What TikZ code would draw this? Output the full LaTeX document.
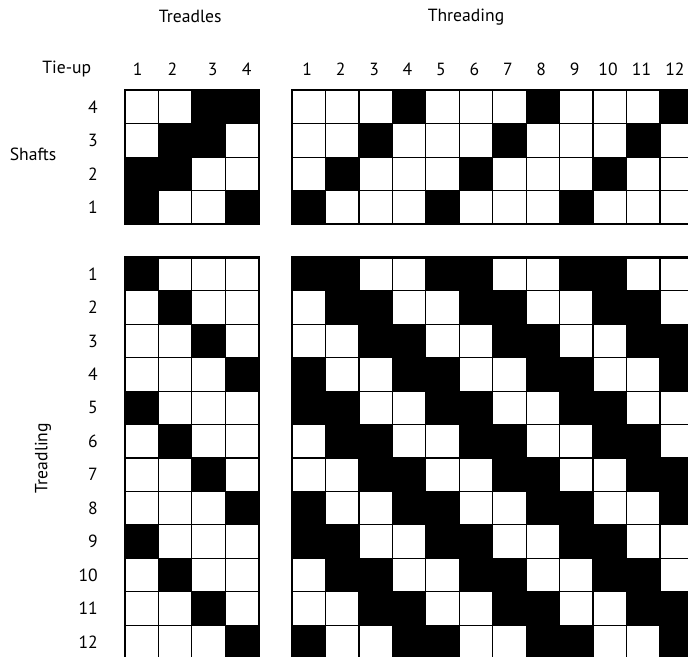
\documentclass[tikz,border=0pt]{standalone}
\usepackage{fontspec}
\setmainfont{PT Sans}
\begin{document}
\begin{tikzpicture}[x=0.8cm, y=0.8cm,
    cellgrid/.style={line width=0.8pt, step=1},
    frame/.style={line width=1.6pt},
    lbl/.style={font=\fontsize{12}{14}\selectfont},
    num/.style={lbl, anchor=east}]
  \useasboundingbox (-3.74,-16.94) rectangle (16.84,2.7);
  % tie-up
  \foreach \t in {1,...,4} \foreach \s in {1,...,4} {
    \pgfmathtruncatemacro{\d}{mod(\s-\t+4,4)}
    \ifnum\d<2 \fill (\t-1,\s-5) rectangle (\t,\s-4); \fi
  }
  % threading
  \foreach \c in {1,...,12} {
    \pgfmathtruncatemacro{\s}{mod(\c-1,4)+1}
    \fill (4+\c,\s-5) rectangle (5+\c,\s-4);
  }
  % treadling
  \foreach \r in {1,...,12} {
    \pgfmathtruncatemacro{\t}{mod(\r-1,4)+1}
    \fill (\t-1,-4-\r) rectangle (\t,-5-\r);
  }
  % drawdown
  \foreach \r in {1,...,12} \foreach \c in {1,...,12} {
    \pgfmathtruncatemacro{\d}{mod(mod(\c-1,4)-mod(\r-1,4)+4,4)}
    \ifnum\d<2 \fill (4+\c,-4-\r) rectangle (5+\c,-5-\r); \fi
  }
  \draw[cellgrid] (0,0) grid (4,-4);
  \draw[cellgrid] (5,0) grid (17,-4);
  \draw[cellgrid] (0,-5) grid (4,-17);
  \draw[cellgrid] (5,-5) grid (17,-17);
  \draw[frame] (0,0) rectangle (4,-4);
  \draw[frame] (5,0) rectangle (17,-4);
  \draw[frame] (0,-5) rectangle (4,-17);
  \draw[frame] (5,-5) rectangle (17,-17);
  % labels
  \node[lbl] (treadles) at (1.95,2.2) {Treadles};
  \node[lbl] (threading) at (10.2,2.2) {Threading};
  \node[lbl] (tieup) at (-1.74,0.63) {Tie-up};
  \node[lbl] (shafts) at (-2.75,-1.92) {Shafts};
  \node[lbl, rotate=90] (treadling) at (-2.45,-11) {Treadling};
  \foreach \t/\x in {1/0.38,2/1.42,3/2.62,4/3.64}
    \node[lbl] (tn\t) at (\x,0.63) {\t};
  \foreach \c in {1,...,12}
    \node[lbl] (cn\c) at (4.45+\c,0.63) {\c};
  \foreach \s in {1,...,4}
    \node[num] (sn\s) at (-0.66,\s-4.5) {\s};
  \foreach \r in {1,...,12}
    \node[num] (rn\r) at (-0.66,-4.5-\r) {\r};
\end{tikzpicture}
\end{document}
